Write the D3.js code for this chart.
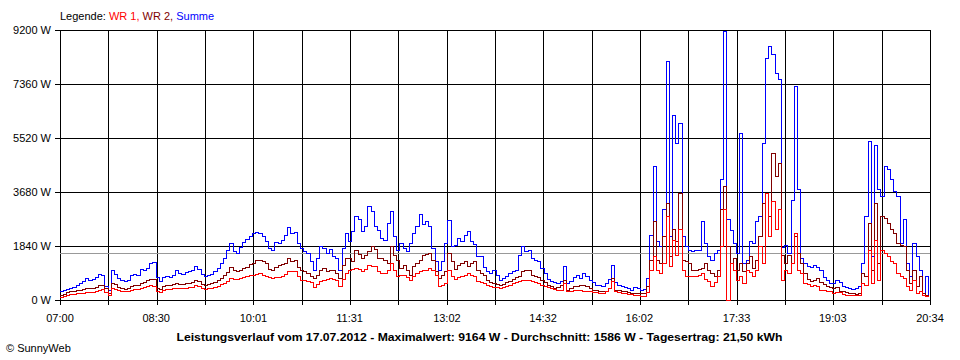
<!DOCTYPE html>
<html>
<head>
<meta charset="utf-8">
<script src="https://cdn.jsdelivr.net/npm/d3@7"></script>
<style>
html,body{margin:0;padding:0;background:#fff;}
svg{display:block;}
text{font-family:"Liberation Sans",Arial,sans-serif;font-size:11px;fill:#000;}
</style>
</head>
<body>
<svg id="chart" width="960" height="360"></svg>
<script>
// ---- data ----
const startTime = "07:00";
const endTime = "20:34";
const stepMinutes = 3;
const xTickLabels = ["07:00","08:30","10:01","11:31","13:02","14:32","16:02","17:33","19:03","20:34"];
const yTickValues = [0, 1840, 3680, 5520, 7360, 9200];
const yMax = 9200;
const average = 1586;
const seriesNames = ["WR 1", "WR 2", "Summe"];
const seriesColors = ["#ff0000", "#800000", "#0000ff"];
const titleText = "Leistungsverlauf vom 17.07.2012 - Maximalwert: 9164 W - Durchschnitt: 1586 W - Tagesertrag: 21,50 kWh";

const summe = [
280,320,370,400,440,480,550,640,720,650,
690,780,860,820,450,340,990,880,740,680,
630,680,850,880,820,1040,1000,1080,1230,1270,
750,640,780,800,770,850,1020,900,880,930,
960,1000,1130,1040,870,800,850,880,980,1080,
1250,1400,1700,1930,1650,1600,1800,1950,2050,2150,
2270,2300,2270,2150,2000,1760,1700,1950,1930,2040,
2200,2470,2250,2290,1930,1760,1650,1590,1310,1020,
1420,1840,1760,1590,1730,1480,1400,1020,1760,2270,
2000,2330,2840,2730,2330,2500,3180,3010,2500,2380,
2100,2040,2610,3010,2150,1680,1930,1760,1650,1930,
2270,2500,2900,2560,2670,2500,1760,1310,1020,1310,
1930,2700,1820,1870,2100,1990,2200,2330,2000,1900,
1480,1480,1100,960,910,1000,850,680,720,800,
910,960,1000,1500,1820,1650,1700,1400,1360,1300,
1080,900,700,620,580,570,620,1130,570,620,
750,850,740,900,800,680,580,510,480,450,
560,700,1190,600,510,450,420,400,340,420,
380,340,370,740,2200,4540,2000,1820,3070,8120,
2160,6300,5340,6020,2160,1820,1700,1650,1680,1700,
2670,1930,1480,1360,1590,1700,4090,9164,2730,2380,
1930,1600,5680,1250,1360,1990,1930,2670,2840,5340,
8230,8630,8350,7720,7500,1800,1850,1600,3400,7270,
3750,1400,1250,1150,1100,1190,1100,1000,780,650,
570,570,680,600,450,420,390,360,400,450,
1250,2840,5400,1480,5280,3750,3520,4540,4430,4090,
3690,3520,1930,2730,1250,800,1930,1480,1020,230,
800,170
];

const wr2 = [
170,200,240,280,300,320,340,360,390,380,
390,440,490,500,380,230,570,520,440,400,
370,400,450,480,500,570,600,650,700,690,
400,350,470,480,480,520,570,540,530,550,
570,600,680,640,540,510,540,560,610,660,
740,820,950,1100,1000,970,1020,1080,1120,1200,
1250,1330,1360,1300,1250,1050,1020,1110,1190,1200,
1230,1420,1310,1360,1100,1020,960,910,800,740,
850,1000,1080,970,1000,1020,910,740,1190,1400,
1400,1310,1700,1550,1420,1530,1650,1820,1730,1420,
1400,1360,1250,1820,1500,1360,1080,1190,1000,850,
1140,1250,1360,1530,1560,1590,1360,970,740,850,
970,1590,1300,1050,1190,1250,1310,1140,1250,1310,
1020,900,850,680,600,570,540,510,540,600,
630,700,750,800,970,1000,1020,850,800,750,
680,600,510,450,400,420,500,680,340,400,
450,470,500,510,450,400,340,320,300,280,
300,400,740,340,320,300,280,260,230,220,
210,220,230,450,1360,2670,1360,1250,2160,3290,
1480,2390,2000,3640,1360,1300,1250,1020,1020,1050,
1080,1250,1000,910,800,1000,3070,3860,1820,1250,
1400,1020,1250,970,1250,1480,1080,1360,2160,3290,
3640,2840,5000,4200,4660,1500,1250,1500,1250,2160,
1600,1250,900,700,630,680,740,600,540,450,
420,400,440,300,280,250,230,210,200,230,
910,800,2610,1020,3290,1250,2840,2780,2610,2400,
2270,1930,1870,1820,1020,570,1020,450,800,230,
150,110
];

const wr1 = [
100,120,150,190,200,210,220,230,250,260,
270,300,340,350,250,140,400,370,320,300,
280,300,330,350,360,400,420,450,480,470,
280,250,340,350,350,380,400,380,380,400,
410,430,480,450,380,360,380,400,430,460,
520,570,640,720,700,690,740,780,800,830,
850,880,910,850,800,760,740,750,770,800,
880,970,970,970,800,680,680,640,590,430,
520,620,680,700,740,700,680,450,700,900,
1020,1050,1080,1050,970,1050,1190,1150,1140,970,
920,890,1000,1250,1000,800,820,850,750,680,
800,900,970,1000,1020,1080,1000,850,450,500,
570,1020,800,700,750,800,850,910,850,800,
630,600,570,500,450,430,410,400,420,450,
510,550,600,630,650,680,660,630,600,560,
510,470,420,400,350,320,340,570,280,300,
330,340,320,300,290,280,260,240,230,230,
300,400,630,280,240,220,210,200,190,170,
140,110,110,250,1020,1480,1020,910,1250,2840,
1140,2040,1500,2390,1000,800,800,800,800,830,
910,700,630,450,600,800,1820,3070,0,1250,
1020,680,800,570,1020,950,800,1020,1820,1250,
3640,2160,3350,2390,3070,680,1020,910,1250,2270,
1020,910,570,520,450,490,470,340,320,300,
280,230,260,240,200,170,160,150,150,170,
570,510,1700,570,2040,680,1700,1590,1480,1310,
1250,910,800,740,450,340,680,230,300,170,
130,110
];

// ---- drawing ----
const svg = d3.select("#chart");
const W = 960, H = 360;
const plot = {left: 60, right: 930, top: 30, bottom: 300};

function toMin(s){ const p = s.split(":"); return (+p[0])*60 + (+p[1]); }
const t0 = toMin(startTime), t1 = toMin(endTime);

const x = d3.scaleLinear().domain([0, t1 - t0]).range([plot.left, plot.right]);
const y = d3.scaleLinear().domain([0, yMax]).range([plot.bottom, plot.top]);

svg.append("rect").attr("width", W).attr("height", H).attr("fill", "#fff");

const g = svg.append("g");
const snap = v => Math.round(v) + 0.5;

// vertical grid lines (18 intervals, labels on every second)
const nGrid = 18;
const gridTimes = d3.range(nGrid + 1).map(k => k * (t1 - t0) / nGrid);
g.selectAll("line.vg").data(gridTimes).enter().append("line")
  .attr("x1", d => snap(x(d))).attr("x2", d => snap(x(d)))
  .attr("y1", plot.top).attr("y2", plot.bottom + 5)
  .attr("stroke", "#000").attr("stroke-width", 1).attr("shape-rendering", "crispEdges");

// horizontal grid lines
g.selectAll("line.hg").data(yTickValues).enter().append("line")
  .attr("x1", plot.left - 5).attr("x2", plot.right)
  .attr("y1", d => snap(y(d))).attr("y2", d => snap(y(d)))
  .attr("stroke", "#000").attr("stroke-width", 1).attr("shape-rendering", "crispEdges");

// y labels
g.selectAll("text.yl").data(yTickValues).enter().append("text")
  .attr("x", 51).attr("y", d => y(d) + 4)
  .attr("text-anchor", "end")
  .text(d => d + " W");

// x labels
g.selectAll("text.xl").data(xTickLabels).enter().append("text")
  .attr("x", d => x(toMin(d) - t0)).attr("y", 322)
  .attr("text-anchor", "middle")
  .text(d => d);

// average line
g.append("line")
  .attr("x1", plot.left).attr("x2", plot.right)
  .attr("y1", snap(y(average))).attr("y2", snap(y(average)))
  .attr("stroke", "#999").attr("stroke-width", 1).attr("shape-rendering", "crispEdges");

// series
const line = d3.line()
  .x((d, i) => x(i * stepMinutes))
  .y(d => y(d))
  .curve(d3.curveStepAfter);

const drawOrder = [[summe, seriesColors[2]], [wr2, seriesColors[1]], [wr1, seriesColors[0]]];
drawOrder.forEach(([data, color]) => {
  g.append("path").datum(data)
    .attr("d", line)
    .attr("fill", "none")
    .attr("stroke", color)
    .attr("stroke-width", 1)
    .attr("shape-rendering", "crispEdges");
});

// legend
const leg = svg.append("text").attr("x", 60).attr("y", 20);
leg.append("tspan").text("Legende: ");
leg.append("tspan").attr("fill", seriesColors[0]).style("fill", seriesColors[0]).text(seriesNames[0] + ", ");
leg.append("tspan").attr("fill", seriesColors[1]).style("fill", seriesColors[1]).text(seriesNames[1] + ", ");
leg.append("tspan").attr("fill", seriesColors[2]).style("fill", seriesColors[2]).text(seriesNames[2]);

// title
svg.append("text")
  .attr("x", 479.5).attr("y", 341)
  .attr("text-anchor", "middle")
  .attr("textLength", 606).attr("lengthAdjust", "spacingAndGlyphs")
  .style("font-weight", "bold")
  .text(titleText);

// copyright
svg.append("text").attr("x", 6).attr("y", 352).text("\u00A9 SunnyWeb");
</script>
</body>
</html>
